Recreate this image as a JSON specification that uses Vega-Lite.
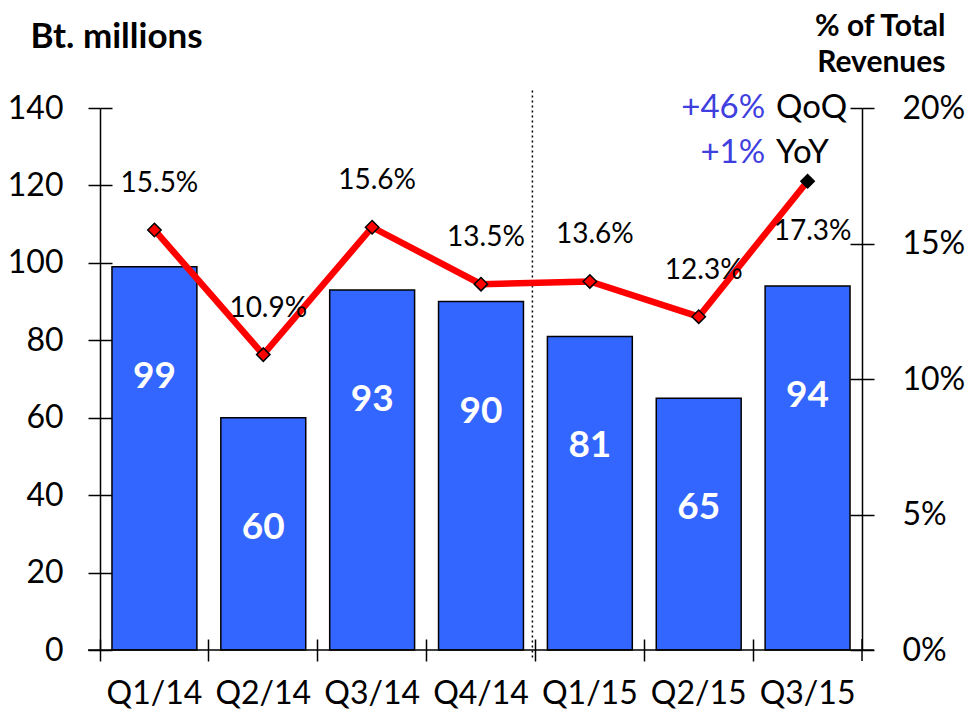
{
  "$schema": "https://vega.github.io/schema/vega-lite/v6.json",
  "width": 762,
  "height": 542,
  "autosize": {"type": "none"},
  "padding": {"left": 100, "top": 108, "right": 109, "bottom": 71},
  "background": "white",
  "config": {
    "view": {"stroke": null},
    "font": "Lato",
    "axis": {"domainColor": "black", "tickColor": "black", "domainWidth": 1.5, "tickWidth": 1.5, "labelColor": "black", "grid": false, "labelFont": "Lato", "titleFont": "Lato", "titleColor": "black"}
  },
  "data": {"values": [
    {"quarter": "Q1/14", "revenue": 99, "pct": 0.155},
    {"quarter": "Q2/14", "revenue": 60, "pct": 0.109},
    {"quarter": "Q3/14", "revenue": 93, "pct": 0.156},
    {"quarter": "Q4/14", "revenue": 90, "pct": 0.135},
    {"quarter": "Q1/15", "revenue": 81, "pct": 0.136},
    {"quarter": "Q2/15", "revenue": 65, "pct": 0.123},
    {"quarter": "Q3/15", "revenue": 94, "pct": 0.173}
  ]},
  "layer": [
    {
      "mark": {"type": "text", "text": ""},
      "encoding": {
        "x": {"field": "quarter", "type": "nominal", "sort": null, "scale": {"paddingInner": 0.22, "paddingOuter": 0.11},
          "axis": {"orient": "bottom", "title": null, "bandPosition": -0.141, "domain": false, "offset": -11, "tickSize": 22, "labelFontSize": 32, "labelPadding": 32, "labelBaseline": "middle", "labelAngle": 0}},
        "y": {"field": "revenue", "type": "quantitative", "scale": {"domain": [0, 140], "nice": false},
          "axis": {"orient": "left", "values": [0, 20, 40, 60, 80, 100, 120, 140], "offset": -12, "tickSize": 12, "labels": false, "domain": false, "title": null}}
      }
    },
    {
      "layer": [
        {
          "mark": {"type": "bar", "color": "#3366FF", "stroke": "black", "strokeWidth": 1.5},
          "encoding": {
            "x": {"field": "quarter", "type": "nominal", "sort": null},
            "y": {"field": "revenue", "type": "quantitative", "scale": {"domain": [0, 140], "nice": false},
              "axis": {"orient": "left", "values": [0, 20, 40, 60, 80, 100, 120, 140], "tickSize": 12, "labelFontSize": 32, "labelPadding": 25, "labelBaseline": "middle",
                "title": "Bt. millions", "titleAngle": 0, "titleAlign": "left", "titleBaseline": "alphabetic", "titleX": -70, "titleY": -61, "titleFontSize": 35, "titleFontWeight": "bold"}}
          }
        },
        {
          "mark": {"type": "text", "color": "white", "fontWeight": "bold", "fontSize": 37, "baseline": "middle", "dy": 110},
          "encoding": {
            "x": {"field": "quarter", "type": "nominal", "sort": null},
            "y": {"field": "revenue", "type": "quantitative"},
            "text": {"field": "revenue", "type": "quantitative"}
          }
        },
        {
          "data": {"values": [{}]},
          "mark": {"type": "rule", "strokeDash": [2, 3], "strokeWidth": 1.5, "color": "black", "xOffset": -15},
          "encoding": {
            "x": {"datum": "Q1/15", "type": "nominal", "bandPosition": 0},
            "y": {"datum": 144.5},
            "y2": {"datum": -2.5}
          }
        },
        {
          "data": {"values": [{}]},
          "mark": {"type": "rule", "strokeWidth": 1.5, "color": "black", "xOffset": -24, "x2Offset": 24},
          "encoding": {
            "x": {"datum": "Q1/14", "type": "nominal", "bandPosition": 0},
            "x2": {"datum": "Q3/15", "bandPosition": 1},
            "y": {"datum": 0}
          }
        },
        {
          "data": {"values": [{}]},
          "mark": {"type": "rule", "strokeWidth": 1.5, "color": "black", "xOffset": 12},
          "encoding": {
            "x": {"datum": "Q3/15", "type": "nominal", "bandPosition": 1},
            "y": {"datum": 2.84},
            "y2": {"datum": -2.84}
          }
        },
        {
          "data": {"values": [{"num": "+46%", "word": "QoQ"}]},
          "layer": [
            {"mark": {"type": "text", "align": "right", "baseline": "middle", "fontSize": 33, "color": "#3F3FDF"},
             "encoding": {"x": {"datum": "Q3/15", "type": "nominal", "bandPosition": 0}, "y": {"datum": 140}, "text": {"field": "num"}}},
            {"mark": {"type": "text", "align": "left", "baseline": "middle", "fontSize": 33, "color": "black", "dx": 11},
             "encoding": {"x": {"datum": "Q3/15", "type": "nominal", "bandPosition": 0}, "y": {"datum": 140}, "text": {"field": "word"}}}
          ]
        },
        {
          "data": {"values": [{"num": "+1%", "word": "YoY"}]},
          "layer": [
            {"mark": {"type": "text", "align": "right", "baseline": "middle", "fontSize": 33, "color": "#3F3FDF"},
             "encoding": {"x": {"datum": "Q3/15", "type": "nominal", "bandPosition": 0}, "y": {"datum": 128.5}, "text": {"field": "num"}}},
            {"mark": {"type": "text", "align": "left", "baseline": "middle", "fontSize": 33, "color": "black", "dx": 11},
             "encoding": {"x": {"datum": "Q3/15", "type": "nominal", "bandPosition": 0}, "y": {"datum": 128.5}, "text": {"field": "word"}}}
          ]
        }
      ]
    },
    {
      "layer": [
        {
          "mark": {"type": "line", "color": "#FF0000", "strokeWidth": 6.5},
          "encoding": {
            "x": {"field": "quarter", "type": "nominal", "sort": null},
            "y": {"field": "pct", "type": "quantitative", "scale": {"domain": [0, 0.2], "nice": false},
              "axis": {"orient": "right", "values": [0, 0.05, 0.1, 0.15, 0.2], "format": ".0%", "tickSize": 12, "labelFontSize": 32, "labelPadding": 28, "labelBaseline": "middle",
                "title": ["% of Total", "Revenues"], "titleAngle": 0, "titleAlign": "right", "titleBaseline": "alphabetic", "titleX": 83, "titleY": -73, "titleFontSize": 30, "titleFontWeight": "bold", "titleLineHeight": 36}}
          }
        },
        {
          "mark": {"type": "point", "shape": "diamond", "filled": true, "size": 180, "stroke": "black", "strokeWidth": 1.5, "opacity": 1},
          "encoding": {
            "x": {"field": "quarter", "type": "nominal", "sort": null},
            "y": {"field": "pct", "type": "quantitative"},
            "fill": {"condition": {"test": "datum.quarter === 'Q3/15'", "value": "black"}, "value": "#FF0000"}
          }
        },
        {
          "transform": [{"filter": "datum.quarter !== 'Q3/15'"}],
          "mark": {"type": "text", "fontSize": 28, "baseline": "middle", "dy": -46, "dx": 5, "color": "black"},
          "encoding": {
            "x": {"field": "quarter", "type": "nominal", "sort": null},
            "y": {"field": "pct", "type": "quantitative"},
            "text": {"field": "pct", "type": "quantitative", "format": ".1%"}
          }
        },
        {
          "transform": [{"filter": "datum.quarter === 'Q3/15'"}],
          "mark": {"type": "text", "fontSize": 28, "baseline": "middle", "dy": 51, "dx": 5, "color": "black"},
          "encoding": {
            "x": {"field": "quarter", "type": "nominal", "sort": null},
            "y": {"field": "pct", "type": "quantitative"},
            "text": {"field": "pct", "type": "quantitative", "format": ".1%"}
          }
        }
      ]
    },
    {
      "mark": {"type": "text", "text": ""},
      "encoding": {
        "x": {"field": "quarter", "type": "nominal", "sort": null},
        "y": {"field": "pct", "type": "quantitative", "scale": {"domain": [0, 0.2], "nice": false},
          "axis": {"orient": "right", "values": [0, 0.05, 0.1, 0.15, 0.2], "offset": -12, "tickSize": 12, "labels": false, "domain": false, "title": null}}
      }
    }
  ],
  "resolve": {"scale": {"y": "independent"}}
}
